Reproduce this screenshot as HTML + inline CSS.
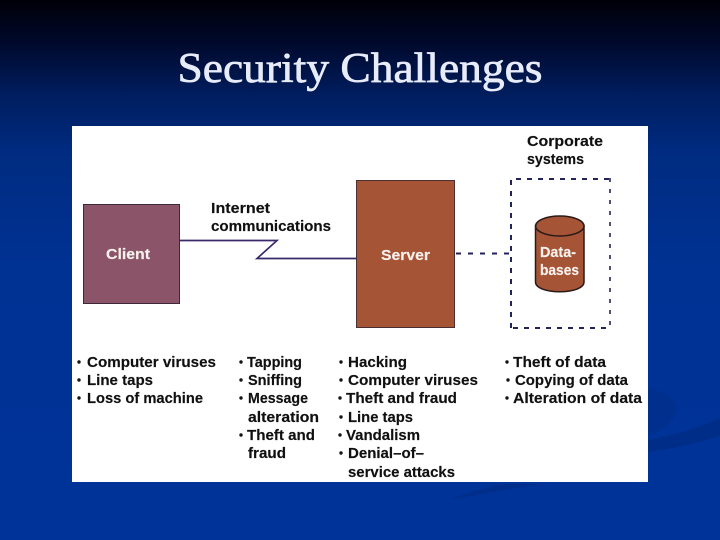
<!DOCTYPE html>
<html>
<head>
<meta charset="utf-8">
<style>
html,body{margin:0;padding:0;width:720px;height:540px;overflow:hidden;background:#003399}
svg{display:block}
text{font-family:"Liberation Sans",sans-serif;font-weight:bold;font-size:14.5px;fill:#101010;stroke:#101010;stroke-width:0.15px}
.w{fill:#f8f2ee;stroke:#f8f2ee}
.t{filter:blur(0.3px)}
</style>
</head>
<body>
<svg width="720" height="540" viewBox="0 0 720 540" xmlns="http://www.w3.org/2000/svg">
<defs>
<linearGradient id="bg" x1="0" y1="0" x2="0" y2="1">
<stop offset="0" stop-color="#000008"/>
<stop offset="0.08" stop-color="#00092c"/>
<stop offset="0.18" stop-color="#001e60"/>
<stop offset="0.28" stop-color="#002b80"/>
<stop offset="0.5" stop-color="#003294"/>
<stop offset="1" stop-color="#003399"/>
</linearGradient>
</defs>
<rect width="720" height="540" fill="url(#bg)"/>
<path d="M648 388 Q672 392 677 408 Q675 425 648 436 Z" fill="#002f8e"/>
<path d="M648 440 Q690 432 720 418 L720 436 Q690 446 648 452 Z" fill="#002d88"/>
<path d="M450 500 Q490 492 540 484 L505 484 Q470 490 450 500 Z" fill="#002e8a"/>

<text x="360" y="82" text-anchor="middle" textLength="365" lengthAdjust="spacingAndGlyphs" style="font-family:'Liberation Serif',serif;font-weight:normal;font-size:42.5px;fill:#e8ecfa;stroke:#e8ecfa;stroke-width:0.7px">Security Challenges</text>

<rect x="72" y="126" width="576" height="356" fill="#fff"/>

<rect x="83.5" y="204.5" width="96" height="99" fill="#8b5469" stroke="#3a2a3a" stroke-width="1"/>
<rect x="356.5" y="180.5" width="98" height="147" fill="#a65436" stroke="#4a3030" stroke-width="1"/>

<polyline points="180,240.5 277,240.5 257,258.5 356,258.5" fill="none" stroke="#3a2a6a" stroke-width="1.7"/>

<g fill="none" stroke="#23235c">
<line x1="456" y1="253.5" x2="511" y2="253.5" stroke-width="2" stroke-dasharray="5 7"/>
<line x1="516" y1="179" x2="610" y2="179" stroke-width="2" stroke-dasharray="5 6"/>
<line x1="511" y1="180" x2="511" y2="328" stroke-width="2" stroke-dasharray="5 6"/>
<line x1="610" y1="178" x2="610" y2="328" stroke-width="1.6" stroke-dasharray="4 7"/>
<line x1="513" y1="328" x2="611" y2="328" stroke-width="2" stroke-dasharray="5 6"/>
</g>

<path d="M535.5 226 V282 C535.5 295 584 295 584 282 V226 Z" fill="#a65436" stroke="#2a1a18" stroke-width="1.5"/>
<ellipse cx="559.8" cy="226" rx="24.2" ry="10" fill="#a65436" stroke="#2a1a18" stroke-width="1.5"/>

<g class="t">
<text class="w" x="106" y="259" textLength="44" lengthAdjust="spacingAndGlyphs">Client</text>
<text class="w" x="381" y="260" textLength="49" lengthAdjust="spacingAndGlyphs">Server</text>
<text class="w" x="540" y="257" textLength="36" lengthAdjust="spacingAndGlyphs">Data-</text>
<text class="w" x="540" y="275" textLength="39" lengthAdjust="spacingAndGlyphs">bases</text>

<text x="211" y="213" textLength="59" lengthAdjust="spacingAndGlyphs">Internet</text>
<text x="211" y="231" textLength="120" lengthAdjust="spacingAndGlyphs">communications</text>
<text x="527" y="146" textLength="76" lengthAdjust="spacingAndGlyphs">Corporate</text>
<text x="527" y="164" textLength="57" lengthAdjust="spacingAndGlyphs">systems</text>

<g fill="#141414">
<circle cx="79" cy="362" r="1.7"/><circle cx="79" cy="380" r="1.7"/><circle cx="79" cy="398" r="1.7"/>
<circle cx="241" cy="362" r="1.7"/><circle cx="241" cy="380" r="1.7"/><circle cx="241" cy="398" r="1.7"/><circle cx="241" cy="435" r="1.7"/>
<circle cx="341" cy="362" r="1.7"/><circle cx="341" cy="380" r="1.7"/><circle cx="340" cy="398" r="1.7"/><circle cx="341" cy="417" r="1.7"/><circle cx="340" cy="435" r="1.7"/><circle cx="341" cy="453" r="1.7"/>
<circle cx="507" cy="362" r="1.7"/><circle cx="508" cy="380" r="1.7"/><circle cx="507" cy="398" r="1.7"/>
</g>

<text x="87" y="367" textLength="129" lengthAdjust="spacingAndGlyphs">Computer viruses</text>
<text x="87" y="385" textLength="66" lengthAdjust="spacingAndGlyphs">Line taps</text>
<text x="87" y="403" textLength="116" lengthAdjust="spacingAndGlyphs">Loss of machine</text>

<text x="247" y="367" textLength="55" lengthAdjust="spacingAndGlyphs">Tapping</text>
<text x="248" y="385" textLength="54" lengthAdjust="spacingAndGlyphs">Sniffing</text>
<text x="248" y="403" textLength="60" lengthAdjust="spacingAndGlyphs">Message</text>
<text x="248" y="422" textLength="71" lengthAdjust="spacingAndGlyphs">alteration</text>
<text x="247" y="440" textLength="68" lengthAdjust="spacingAndGlyphs">Theft and</text>
<text x="248" y="458" textLength="38" lengthAdjust="spacingAndGlyphs">fraud</text>

<text x="348" y="367" textLength="59" lengthAdjust="spacingAndGlyphs">Hacking</text>
<text x="348" y="385" textLength="130" lengthAdjust="spacingAndGlyphs">Computer viruses</text>
<text x="346" y="403" textLength="111" lengthAdjust="spacingAndGlyphs">Theft and fraud</text>
<text x="348" y="422" textLength="65" lengthAdjust="spacingAndGlyphs">Line taps</text>
<text x="346" y="440" textLength="74" lengthAdjust="spacingAndGlyphs">Vandalism</text>
<text x="348" y="458" textLength="76" lengthAdjust="spacingAndGlyphs">Denial–of–</text>
<text x="348" y="477" textLength="107" lengthAdjust="spacingAndGlyphs">service attacks</text>

<text x="513" y="367" textLength="93" lengthAdjust="spacingAndGlyphs">Theft of data</text>
<text x="515" y="385" textLength="113" lengthAdjust="spacingAndGlyphs">Copying of data</text>
<text x="513" y="403" textLength="129" lengthAdjust="spacingAndGlyphs">Alteration of data</text>
</g>
</svg>
</body>
</html>
